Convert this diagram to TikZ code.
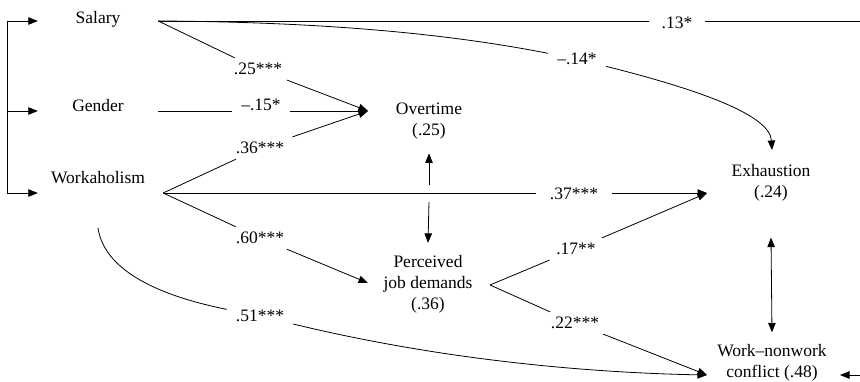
\documentclass[tikz,border=0pt]{standalone}
\usepackage{fontspec}
\setmainfont{Liberation Serif}
\usetikzlibrary{positioning,arrows.meta}

\begin{document}
\begin{tikzpicture}[x=1pt,y=-1pt,
every node/.style = {align=center, inner sep=0pt,
	font=\fontsize{17.5}{21}\selectfont},
var/.style = {minimum width=120pt, anchor=base},
coef/.style = {inner xsep=9pt, inner ysep=5pt},
link/.style = {line width=0.8pt},
arr/.style = {link, -{Triangle[length=9.5pt,width=7.5pt]}},
dbl/.style = {link, {Triangle[length=9.5pt,width=7.5pt]}-{Triangle[length=9.5pt,width=7.5pt]}}
]
\useasboundingbox (0,0) rectangle (860,381);
% predictors
\node[var] (sal) at (98,23) {Salary};
\node[var] (gen) at (98,111) {Gender};
\node[var] (wrk) at (98,183) {Workaholism};
% mediators and outcomes
\node (ovt) at (429,121) {Overtime\\(.25)};
\node (pjd) at (428,284) {Perceived\\job demands\\(.36)};
\node (exh) at (771,183) {Exhaustion\\(.24)};
\node (cfl) at (772,363) {Work--nonwork\\conflict (.48)};
% path coefficients
\node[coef] (c25) at (258,69) {.25***};
\node[coef] (c15) at (261,105) {--.15*};
\node[coef] (c36) at (260,148) {.36***};
\node[coef] (c60) at (260,238) {.60***};
\node[coef] (c51) at (260,316) {.51***};
\node[coef,inner xsep=12pt] (c13) at (677,23) {.13*};
\node[coef] (c14) at (577,59) {--.14*};
\node[coef,inner xsep=14pt] (c37) at (574,194) {.37***};
\node[coef] (c17) at (576,249) {.17**};
\node[coef] (c22) at (575,323) {.22***};
% ports
\coordinate (salO) at ([yshift=2pt]sal.base east);
\coordinate (genO) at (gen.base east);
\coordinate (wrkO) at ([shift={(5pt,-10pt)}]wrk.base east);
\coordinate (wrkD) at ([yshift=-45pt]wrk.base);
\coordinate (ovtI) at (368,111);
\coordinate (pjdI) at (368,283);
\coordinate (pjdO) at (490,285);
\coordinate (exhI) at (707,193);
\coordinate (exhT) at (772,150);
\coordinate (cflI) at (707,375);
\coordinate (cross) at (429,193);
\coordinate (edgeT) at (860,21);
\coordinate (edgeR) at (860,375);

% left bracket
\draw[link] (7,21) -- (7,193);
\draw[arr] (7,21) -- ([yshift=2pt]sal.base west);
\draw[arr] (7,111) -- (gen.base west);
\draw[arr] (7,193) -- ([yshift=-10pt]wrk.base west);

% to overtime
\draw[link] (salO) -- (c25);
\draw[arr] (c25) -- (ovtI);
\draw[link] (genO) -- (genO -| c15.west);
\draw[arr] (genO -| c15.east) -- (ovtI);
\draw[link] (wrkO) -- (c36);
\draw[arr] (c36) -- (ovtI);
% to job demands
\draw[link] (wrkO) -- (c60);
\draw[arr] (c60) -- (pjdI);
% to exhaustion
\draw[link] (wrkO) -- (wrkO -| c37.west);
\draw[arr] (wrkO -| c37.east) -- (exhI);
\draw[link] (salO) .. controls (350,22) and (470,38) .. (c14);
\draw[arr] (c14) .. controls (700,90) and (770,115) .. (exhT);
\draw[link] (pjdO) -- (c17);
\draw[arr] (c17) -- (exhI);
% to conflict
\draw[link] (pjdO) -- (c22);
\draw[arr] (c22) -- (cflI);
\draw[link] (wrkD) .. controls (105,275) and (170,298) .. (c51);
\draw[arr] (c51) .. controls (450,362) and (600,373) .. (cflI);
\draw[link] (salO) -- (salO -| c13.west);
\draw[link] (salO -| c13.east) -- (edgeT);
\draw[arr] (edgeR) -- ([xshift=-20pt]edgeR);

% correlations
\draw[arr] ([yshift=8pt]cross) -- ([yshift=-14pt]ovt.south);
\draw[arr] ([yshift=-9pt]cross) -- ([yshift=12pt]pjd.north);
\draw[dbl] ([yshift=-36pt]exh.south) -- ([yshift=12pt]cfl.north);
\end{tikzpicture}
\end{document}
